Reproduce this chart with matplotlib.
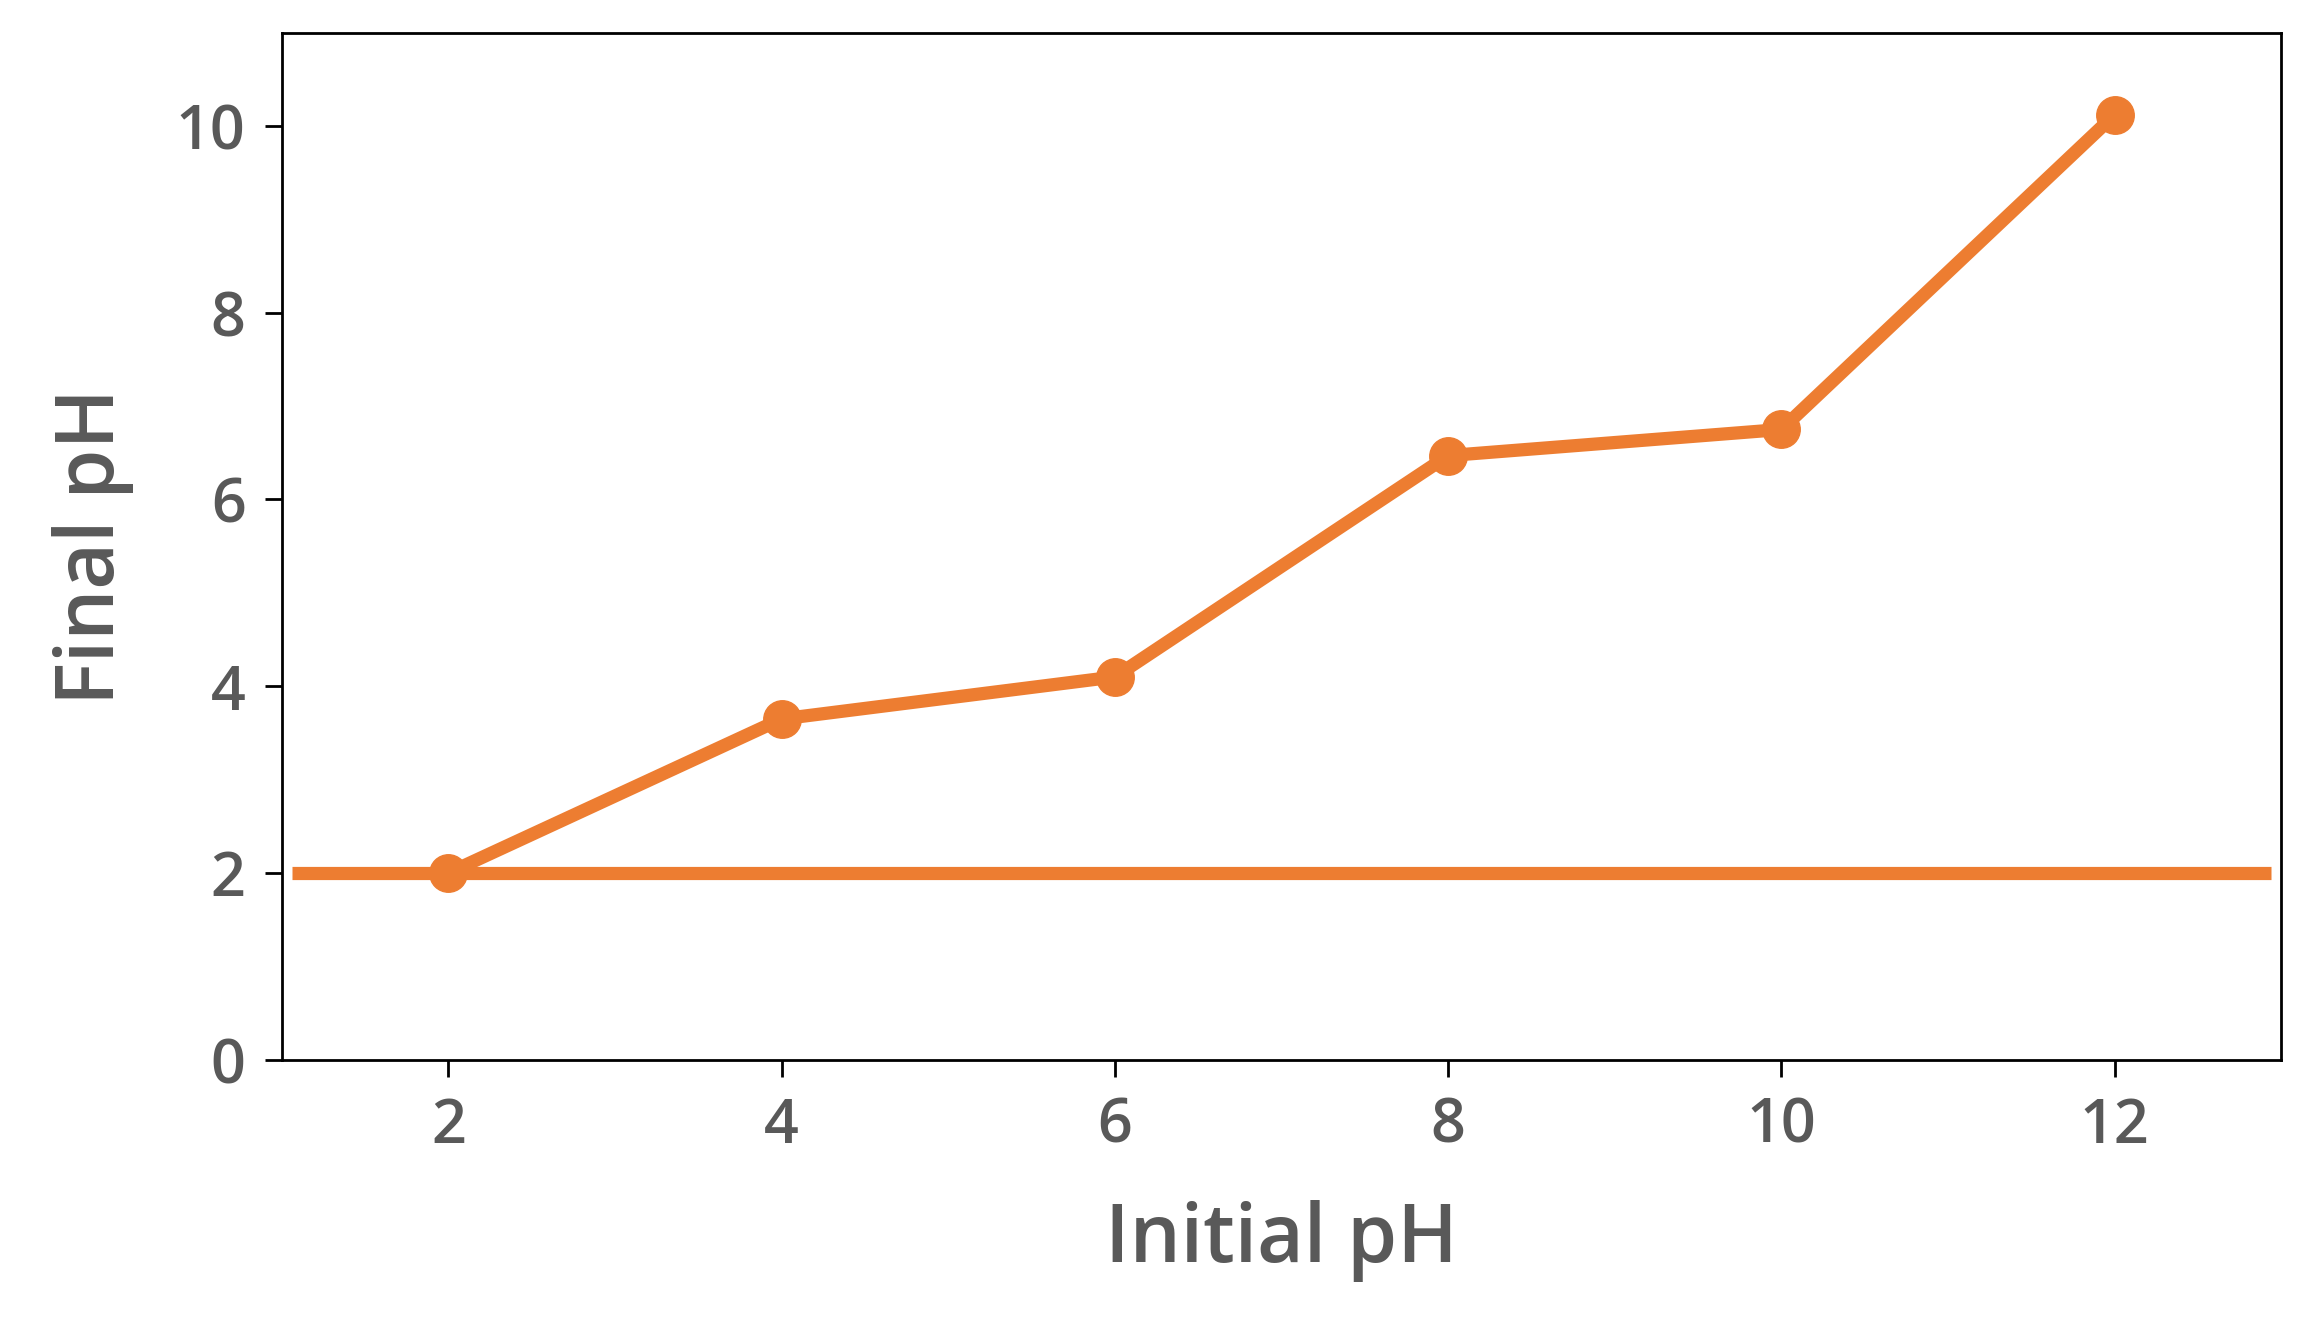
import matplotlib
matplotlib.use("Agg")
import matplotlib.pyplot as plt

initial_ph = ["2", "4", "6", "8", "10", "12"]
final_ph = [2.0, 3.65, 4.1, 6.47, 6.75, 10.12]
reference_level = 2.0
y_ticks = [0, 2, 4, 6, 8, 10]

color = "#ED7D31"
gray = "#595959"
plt.rcParams['font.family'] = ['Open Sans', 'DejaVu Sans']

fig = plt.figure(figsize=(23.02, 13.31), dpi=100)
ax = fig.add_axes([0.1224, 0.2038, 0.8686, 0.7717])
x = list(range(len(initial_ph)))
ax.hlines(reference_level, -0.47, len(initial_ph) - 0.53, color=color, lw=9.5, zorder=2)
ax.plot(x, final_ph, color=color, lw=9.5, marker='o', markersize=27, zorder=3)
ax.set_xlim(-0.5, len(initial_ph) - 0.5)
ax.set_ylim(0, 11)
ax.set_xticks(x)
ax.set_xticklabels(initial_ph)
ax.set_yticks(y_ticks)
for s in ax.spines.values():
    s.set_color("black")
    s.set_linewidth(2)
ax.tick_params(direction='out', length=12, width=2, labelsize=44, labelcolor=gray, pad=14)
for lab in ax.get_xticklabels() + ax.get_yticklabels():
    lab.set_fontweight('semibold')
ax.set_xlabel("Initial pH", fontsize=58, fontweight='semibold', color=gray, labelpad=30)
ax.set_ylabel("Final pH", fontsize=58, fontweight='semibold', color=gray, labelpad=30)
fig.savefig("out.png", dpi=100)
